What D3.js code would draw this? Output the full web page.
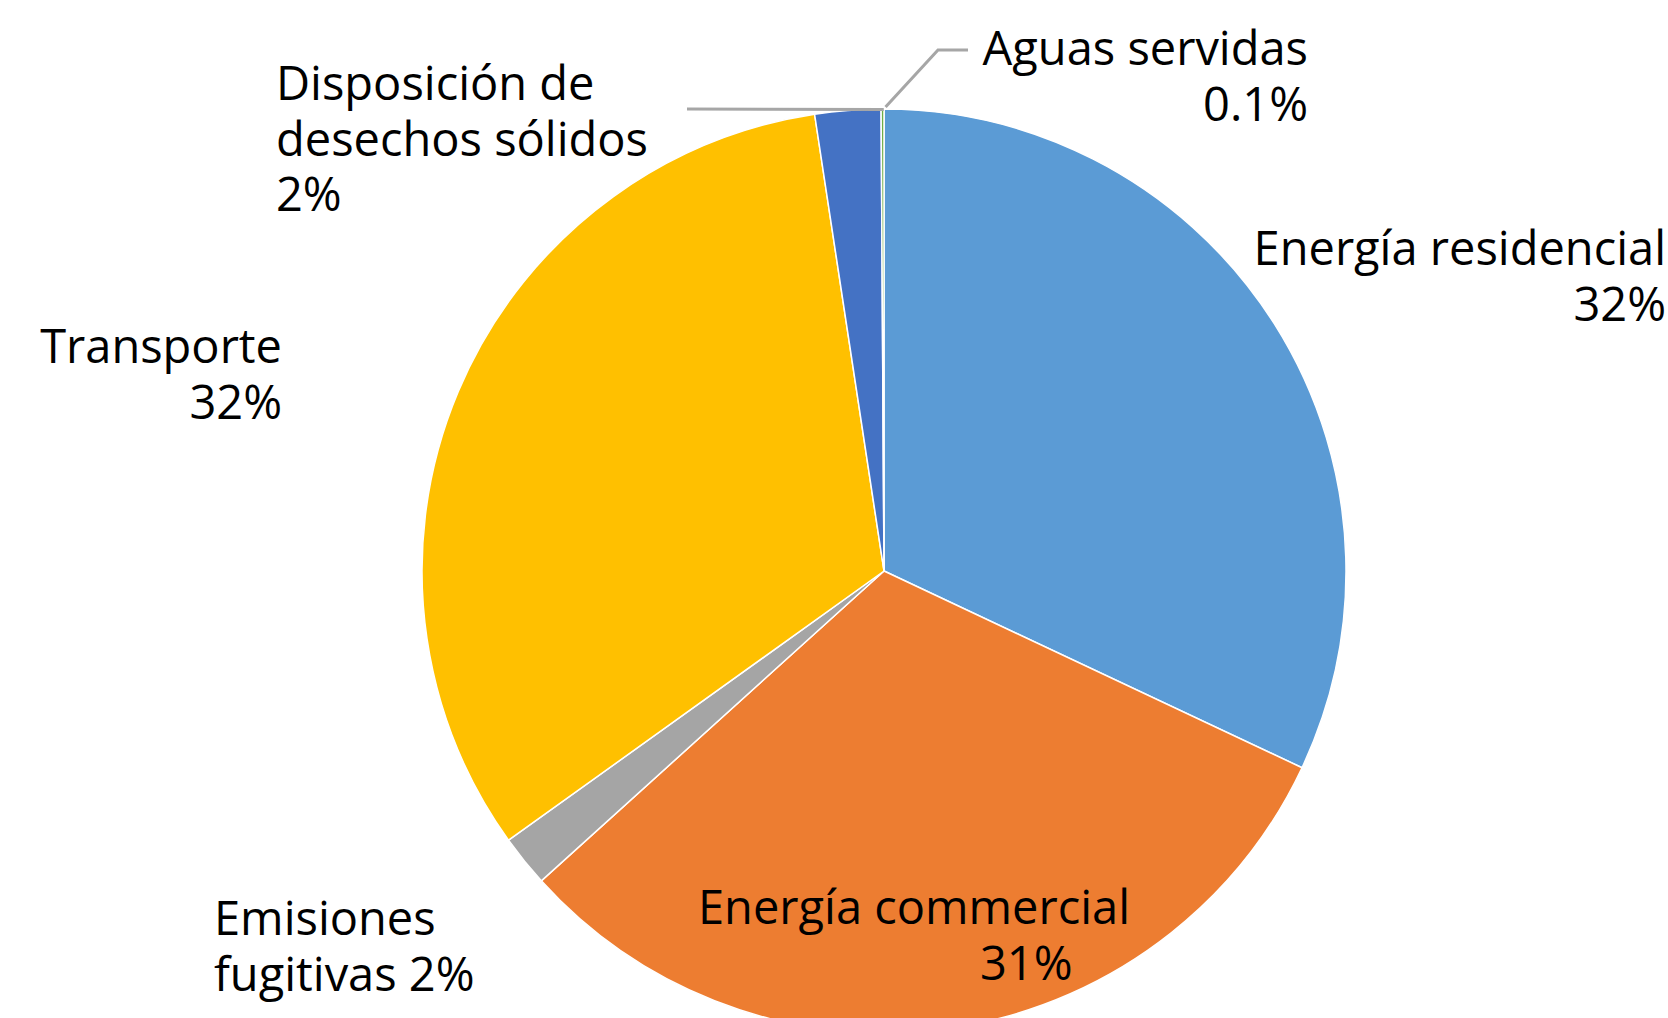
<!DOCTYPE html>
<html>
<head>
<meta charset="utf-8">
<script src="https://cdn.jsdelivr.net/npm/d3@7/dist/d3.min.js"></script>
<style>
  html, body { margin: 0; padding: 0; background: #fff; }
  svg { display: block; }
  .lbl { font-family: 'Open Sans', 'Noto Sans', sans-serif; font-size: 47px; fill: #000; }
</style>
</head>
<body>
<svg id="chart"></svg>
<script>
// Slice data, clockwise from 12 o'clock
const categories = ['Energía residencial', 'Energía commercial', 'Emisiones fugitivas',
                    'Transporte', 'Disposición de desechos sólidos', 'Aguas servidas'];
const values = [32.0, 31.3, 1.8, 32.5, 2.3, 0.1];
const labelLines = [
  ['Energía residencial', '32%'],
  ['Energía commercial', '31%'],
  ['Emisiones', 'fugitivas 2%'],
  ['Transporte', '32%'],
  ['Disposición de', 'desechos sólidos', '2%'],
  ['Aguas servidas', '0.1%']
];
const colors = ['#5B9BD5', '#ED7D31', '#A5A5A5', '#FFC000', '#4472C4', '#70AD47'];

// label placement (x, anchor per line, first baseline)
const labelLayout = [
  {x: [1666, 1666], anchor: ['end', 'end'], y: 265},
  {x: [698, 980], anchor: ['start', 'start'], y: 924},
  {x: [214, 214], anchor: ['start', 'start'], y: 935},
  {x: [282, 282], anchor: ['end', 'end'], y: 363},
  {x: [276, 276, 276], anchor: ['start', 'start', 'start'], y: 100},
  {x: [1308, 1308], anchor: ['end', 'end'], y: 65}
];
const lineGap = 55.5;

const W = 1668, H = 1018;
const cx = 884, cy = 571, R = 462;

const svg = d3.select('#chart').attr('width', W).attr('height', H);

const pie = d3.pie().sort(null).value(d => d.value);
const arcs = pie(categories.map((c, i) => ({name: c, value: values[i]})));
const arc = d3.arc().innerRadius(0).outerRadius(R);

const g = svg.append('g').attr('transform', `translate(${cx},${cy})`);
g.selectAll('path')
  .data(arcs)
  .join('path')
    .attr('d', arc)
    .attr('fill', (d, i) => colors[i])
    .attr('stroke', '#fff')
    .attr('stroke-width', 1.5);

// leader lines for the two thin top slices
const edge = d => {
  const a = (d.startAngle + d.endAngle) / 2;
  return [cx + R * Math.sin(a), cy - R * Math.cos(a)];
};
const solid = edge(arcs[4]);
const aguas = edge(arcs[5]);
const leaders = [
  [[687, 109], [solid[0] + 36, solid[1] - 1]],
  [[aguas[0] + 3, aguas[1] - 2], [938, 50], [968, 50]]
];
svg.selectAll('path.leader')
  .data(leaders)
  .join('path')
    .attr('class', 'leader')
    .attr('d', d3.line())
    .attr('fill', 'none')
    .attr('stroke', '#A6A6A6')
    .attr('stroke-width', 3);

// labels
labelLines.forEach((lines, i) => {
  const L = labelLayout[i];
  const t = svg.append('text').attr('class', 'lbl');
  lines.forEach((s, j) => {
    t.append('tspan')
      .attr('x', L.x[j])
      .attr('y', L.y + j * lineGap)
      .attr('text-anchor', L.anchor[j])
      .text(s);
  });
});
</script>
</body>
</html>
